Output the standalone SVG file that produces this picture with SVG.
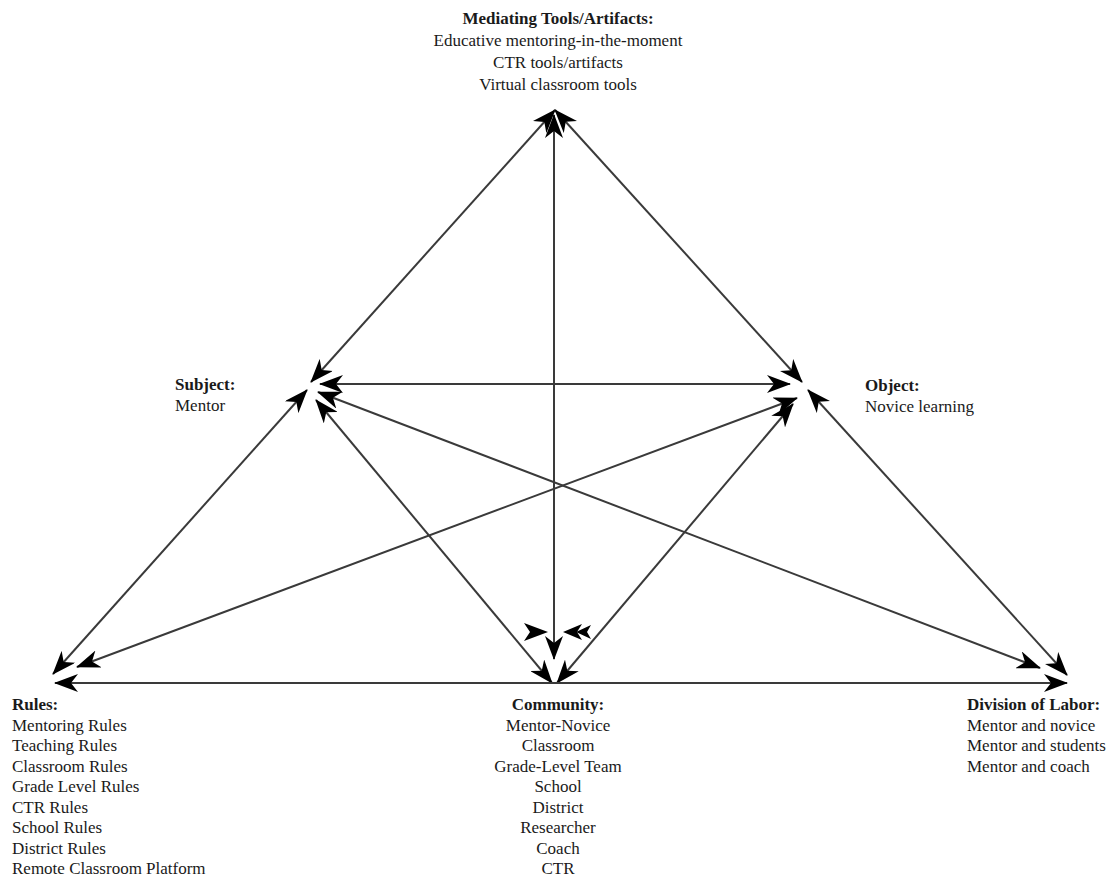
<svg xmlns="http://www.w3.org/2000/svg" width="1109" height="878" viewBox="0 0 1109 878">
<style>
text{font-family:"Liberation Serif","Times New Roman",serif;font-size:17px;fill:#1a1a1a}
.b{font-weight:bold}
.c{text-anchor:middle}
.ln{stroke:#3a3a3a;stroke-width:2;fill:none;marker-start:url(#ah);marker-end:url(#ah)}
.hd{fill:#000}
</style>
<defs>
<marker id="ah" markerUnits="userSpaceOnUse" markerWidth="24" markerHeight="18" refX="23" refY="9" orient="auto-start-reverse" viewBox="0 0 24 18">
<path d="M0,0 L24,9 L0,18 L7,9 Z" fill="#000"/>
</marker>
</defs>
<rect width="1109" height="878" fill="#fff"/>
<g id="connectors">
<line class="ln" x1="555" y1="110" x2="311" y2="382"/>
<line class="ln" x1="555" y1="110" x2="802" y2="382"/>
<line class="ln" x1="554" y1="115" x2="554" y2="659"/>
<line class="ln" x1="320" y1="384" x2="790" y2="384"/>
<line class="ln" x1="307" y1="390" x2="53" y2="674"/>
<line class="ln" x1="316" y1="400" x2="552" y2="683"/>
<line class="ln" x1="318" y1="392" x2="1040" y2="668"/>
<line class="ln" x1="797" y1="398" x2="77" y2="667"/>
<line class="ln" x1="793" y1="404" x2="557" y2="683"/>
<line class="ln" x1="808" y1="390" x2="1067" y2="675"/>
<line class="ln" x1="55" y1="683" x2="1067" y2="683"/>
<path class="hd" d="M548,632 L524,623 L530,632 L524,641 Z"/>
<path class="hd" d="M563,632 L582,624 L577,632 L582,640 Z"/>
<path class="hd" d="M576,632 L591,625 L587,632 L591,639 Z"/>
</g>
<g id="tools">
<text class="b c" x="558" y="24">Mediating Tools/Artifacts:</text>
<text class="c" x="558" y="46">Educative mentoring-in-the-moment</text>
<text class="c" x="558" y="68">CTR tools/artifacts</text>
<text class="c" x="558" y="90">Virtual classroom tools</text>
</g>
<g id="subject">
<text class="b" x="175" y="390">Subject:</text>
<text x="175" y="411">Mentor</text>
</g>
<g id="object">
<text class="b" x="865" y="391">Object:</text>
<text x="865" y="412">Novice learning</text>
</g>
<g id="rules">
<text class="b" x="12" y="710">Rules:</text>
<text x="12" y="731">Mentoring Rules</text>
<text x="12" y="751">Teaching Rules</text>
<text x="12" y="772">Classroom Rules</text>
<text x="12" y="792">Grade Level Rules</text>
<text x="12" y="813">CTR Rules</text>
<text x="12" y="833">School Rules</text>
<text x="12" y="854">District Rules</text>
<text x="12" y="874">Remote Classroom Platform</text>
</g>
<g id="community">
<text class="b c" x="558" y="710">Community:</text>
<text class="c" x="558" y="731">Mentor-Novice</text>
<text class="c" x="558" y="751">Classroom</text>
<text class="c" x="558" y="772">Grade-Level Team</text>
<text class="c" x="558" y="792">School</text>
<text class="c" x="558" y="813">District</text>
<text class="c" x="558" y="833">Researcher</text>
<text class="c" x="558" y="854">Coach</text>
<text class="c" x="558" y="874">CTR</text>
</g>
<g id="division">
<text class="b" x="967" y="710">Division of Labor:</text>
<text x="967" y="731">Mentor and novice</text>
<text x="967" y="751">Mentor and students</text>
<text x="967" y="772">Mentor and coach</text>
</g>
</svg>
